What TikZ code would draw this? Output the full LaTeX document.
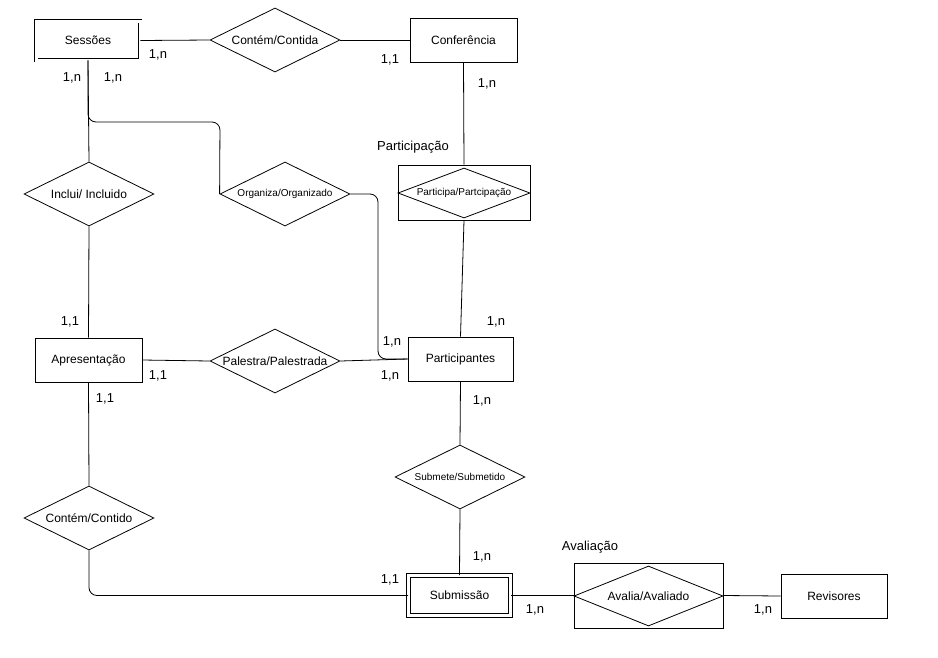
\documentclass[tikz,border=0pt]{standalone}
\usepackage{fontspec}
\setmainfont{Liberation Sans}
\usetikzlibrary{shapes.geometric}
\begin{document}
\begin{tikzpicture}[x=1pt,y=-1pt,
  ent/.style={draw,thick,minimum width=107pt,minimum height=44pt,font=\fontsize{12}{14}\selectfont,inner sep=0pt},
  wk/.style={ent,double,double distance=3pt},
  rel/.style={draw,thick,diamond,aspect=2.03,minimum width=130pt,minimum height=64pt,inner sep=0pt,font=\fontsize{12}{14}\selectfont},
  lab/.style={font=\fontsize{13}{15}\selectfont,inner sep=0pt},
  ln/.style={thick}]
\useasboundingbox (0,0) rectangle (938,657);
\node[wk,minimum width=104pt,minimum height=39pt] (ses) at (88,40.5) {Sessões};
\node[rel] (cc) at (275,40) {Contém/Contida};
\node[ent] (conf) at (463.5,40) {Conferência};
\node[draw,thick,minimum width=132pt,minimum height=55pt] (pbox) at (464,192.5) {};
\node[draw,thick,diamond,aspect=2.64,minimum width=132pt,minimum height=50pt,inner sep=0pt,font=\fontsize{10}{12}\selectfont] (part) at (464,193) {Participa/Partcipação};
\node[lab] at (413,147) {Participação};
\node[rel] (inc) at (89,194) {Inclui/ Incluido};
\node[rel,font=\fontsize{10}{12}\selectfont] (org) at (285,194) {Organiza/Organizado};
\node[ent] (apr) at (88.5,360) {Apresentação};
\node[rel] (pal) at (275,361) {Palestra/Palestrada};
\node[ent,minimum width=105pt] (pa) at (460.5,359) {Participantes};
\node[rel,font=\fontsize{10}{12}\selectfont] (sub) at (460,477) {Submete/Submetido};
\node[rel] (cont) at (89,518) {Contém/Contido};
\node[wk,minimum width=102pt,minimum height=40pt] (subm) at (459.5,595.5) {Submissão};
\node[draw,thick,minimum width=149pt,minimum height=65pt] (abox) at (648.5,595.5) {};
\node[draw,thick,diamond,aspect=2.48,minimum width=149pt,minimum height=60pt,inner sep=0pt,font=\fontsize{12}{14}\selectfont] (av) at (648.5,596) {Avalia/Avaliado};
\node[lab] at (590,547) {Avaliação};
\node[ent,minimum width=106pt] (rev) at (834,596) {Revisores};
% connectors
\draw[ln] (ses.east) -- (cc.west);
\draw[ln] (cc.east) -- (conf.west);
\draw[ln] (conf.south) -- (pbox.north);
\draw[ln] (pbox.south) -- (pa.north);
\draw[ln] (ses.south) -- (inc.north);
\draw[ln] (inc.south) -- (apr.north);
\draw[ln,rounded corners=8pt] (ses.south) |- (220,122) -- (org.west);
\draw[ln,rounded corners=8pt] (org.east) -| (378,359) -- (pa.west);
\draw[ln] (apr.east) -- (pal.west);
\draw[ln] (pal.east) -- (pa.west);
\draw[ln] (pa.south) -- (sub.north);
\draw[ln] (sub.south) -- (subm.north);
\draw[ln] (apr.south) -- (cont.north);
\draw[ln,rounded corners=8pt] (cont.south) |- (subm.west);
\draw[ln] (subm.east) -- (abox.west);
\draw[ln] (abox.east) -- (rev.west);
% cardinalities
\node[lab] at (158,55) {1,n};
\node[lab] at (390,60) {1,1};
\node[lab] at (487,84) {1,n};
\node[lab] at (72,78) {1,n};
\node[lab] at (113,78) {1,n};
\node[lab] at (70,322) {1,1};
\node[lab] at (158,376) {1,1};
\node[lab] at (392,342) {1,n};
\node[lab] at (390,376) {1,n};
\node[lab] at (496,322) {1,n};
\node[lab] at (482,401) {1,n};
\node[lab] at (105,399) {1,1};
\node[lab] at (482,557) {1,n};
\node[lab] at (390,580) {1,1};
\node[lab] at (535,610) {1,n};
\node[lab] at (763,610) {1,n};
\end{tikzpicture}
\end{document}
